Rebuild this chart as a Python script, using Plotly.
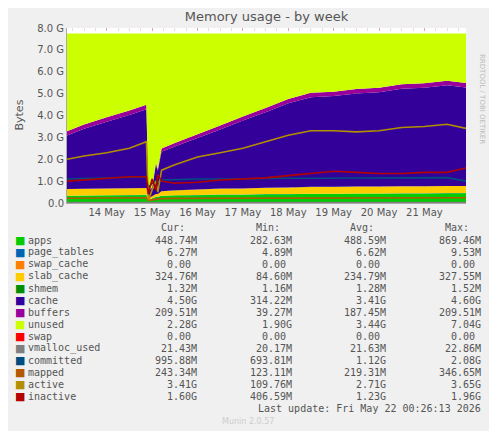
import plotly.graph_objects as go

# sample times (irregular, around the big drop on 14/15 May)
times = ["2026-05-13 03:00", "2026-05-13 12:00", "2026-05-14 00:00", "2026-05-14 12:00",
         "2026-05-14 21:00", "2026-05-14 22:00", "2026-05-15 00:00", "2026-05-15 02:00",
         "2026-05-15 03:00", "2026-05-15 05:00", "2026-05-15 12:00", "2026-05-16 00:00",
         "2026-05-16 12:00", "2026-05-17 00:00", "2026-05-17 12:00", "2026-05-18 00:00",
         "2026-05-18 12:00", "2026-05-19 00:00", "2026-05-19 12:00", "2026-05-20 00:00",
         "2026-05-20 12:00", "2026-05-21 00:00", "2026-05-21 12:00", "2026-05-21 22:00"]

# values in GB
apps = [0.33, 0.34, 0.35, 0.36, 0.37, 0.10, 0.20, 0.28, 0.28, 0.33, 0.35, 0.36,
        0.38, 0.38, 0.40, 0.40, 0.42, 0.42, 0.43, 0.43, 0.44, 0.44, 0.45, 0.45]
page_tables = [0.006] * 24
swap_cache = [0.0] * 24
slab_cache = [0.30, 0.30, 0.31, 0.31, 0.31, 0.10, 0.10, 0.12, 0.12, 0.20, 0.22, 0.25,
              0.27, 0.28, 0.29, 0.30, 0.31, 0.31, 0.32, 0.32, 0.32, 0.32, 0.32, 0.32]
shmem = [0.0013] * 24
cache = [2.45, 2.75, 3.05, 3.35, 3.60, 0.36, 0.35, 1.35, 1.05, 1.80, 2.00, 2.35,
         2.70, 3.10, 3.45, 3.85, 4.10, 4.15, 4.25, 4.30, 4.45, 4.50, 4.60, 4.50]
buffers = [0.19, 0.19, 0.20, 0.20, 0.20, 0.04, 0.05, 0.08, 0.08, 0.15, 0.16, 0.17,
           0.18, 0.19, 0.19, 0.20, 0.20, 0.20, 0.20, 0.21, 0.21, 0.21, 0.21, 0.21]
unused = [4.47, 4.16, 3.83, 3.52, 3.26, 7.14, 7.04, 5.91, 6.21, 5.26, 5.01, 4.61,
          4.21, 3.79, 3.41, 2.99, 2.71, 2.66, 2.54, 2.48, 2.32, 2.27, 2.16, 2.26]
swap = [0.0] * 24
vmalloc_used = [0.021] * 24
committed = [1.10, 1.12, 1.15, 1.18, 1.20, 0.70, 0.90, 1.00, 0.95, 1.05, 1.08, 1.10,
             1.10, 1.12, 1.12, 1.13, 1.13, 1.14, 1.14, 1.15, 1.15, 1.15, 1.16, 1.00]
mapped = [0.22, 0.22, 0.23, 0.23, 0.24, 0.12, 0.15, 0.18, 0.18, 0.20, 0.21, 0.21,
          0.22, 0.22, 0.22, 0.23, 0.23, 0.23, 0.23, 0.23, 0.24, 0.24, 0.24, 0.24]
active = [2.00, 2.15, 2.30, 2.50, 2.80, 0.11, 0.60, 1.00, 0.50, 1.50, 1.75, 2.10,
          2.30, 2.50, 2.80, 3.10, 3.30, 3.30, 3.25, 3.30, 3.45, 3.50, 3.60, 3.41]
inactive = [1.00, 1.05, 1.10, 1.20, 1.20, 0.41, 1.10, 0.60, 1.30, 1.00, 0.90, 0.95,
            1.05, 1.10, 1.15, 1.25, 1.35, 1.45, 1.40, 1.35, 1.35, 1.40, 1.40, 1.60]

stack_series = [("apps", apps, "#00cc00"), ("page_tables", page_tables, "#0066b3"),
                ("swap_cache", swap_cache, "#ff8000"), ("slab_cache", slab_cache, "#ffcc00"),
                ("shmem", shmem, "#008f00"), ("cache", cache, "#330099"),
                ("buffers", buffers, "#990099"), ("unused", unused, "#ccff00")]
line_series = [("swap", swap, "#ff0000"), ("vmalloc_used", vmalloc_used, "#808080"),
               ("committed", committed, "#004d80"), ("mapped", mapped, "#b35a00"),
               ("active", active, "#b38f00"), ("inactive", inactive, "#b30000")]

legend_rows = [
    ("apps", "#00cc00", "448.74M", "282.63M", "488.59M", "869.46M"),
    ("page_tables", "#0066b3", "6.27M", "4.89M", "6.62M", "9.53M"),
    ("swap_cache", "#ff8000", "0.00 ", "0.00 ", "0.00 ", "0.00 "),
    ("slab_cache", "#ffcc00", "324.76M", "84.60M", "234.79M", "327.55M"),
    ("shmem", "#008f00", "1.32M", "1.16M", "1.28M", "1.52M"),
    ("cache", "#330099", "4.50G", "314.22M", "3.41G", "4.60G"),
    ("buffers", "#990099", "209.51M", "39.27M", "187.45M", "209.51M"),
    ("unused", "#ccff00", "2.28G", "1.90G", "3.44G", "7.04G"),
    ("swap", "#ff0000", "0.00 ", "0.00 ", "0.00 ", "0.00 "),
    ("vmalloc_used", "#808080", "21.43M", "20.17M", "21.63M", "22.86M"),
    ("committed", "#004d80", "995.88M", "693.81M", "1.12G", "2.08G"),
    ("mapped", "#b35a00", "243.34M", "123.11M", "219.31M", "346.65M"),
    ("active", "#b38f00", "3.41G", "109.76M", "2.71G", "3.65G"),
    ("inactive", "#b30000", "1.60G", "406.59M", "1.23G", "1.96G"),
]

fig = go.Figure()
for name, vals, col in stack_series:
    fig.add_trace(go.Scatter(x=times, y=vals, name=name, stackgroup="mem", mode="none",
                             fillcolor=col, line=dict(width=0)))
for name, vals, col in line_series:
    fig.add_trace(go.Scatter(x=times, y=vals, name=name, mode="lines",
                             line=dict(color=col, width=1.6)))

# plot area in screen pixels: x 67..466, y 28..203 (page has 8px body margin)
L, R, T, B = 67, 466, 28, 203
OFF = 8
def px(x):
    return (x - L) / (R - L)
def py(y):
    return (B - y) / (B - T)

mono = dict(family="DejaVu Sans Mono", size=10, color="#555555")
ann = []
for i, h in enumerate(["Cur:", "Min:", "Avg:", "Max:"]):
    ann.append(dict(x=px([187, 282, 376, 471][i]), y=py(227), text=h, xanchor="right"))
for r, (name, col, *vals) in enumerate(legend_rows):
    yy = py(240 + r * 12)
    ann.append(dict(x=px(13), y=yy, text="■", font=dict(family="DejaVu Sans", size=11, color=col),
                    xanchor="left"))
    ann.append(dict(x=px(26), y=yy, text=name, xanchor="left"))
    for j, v in enumerate(vals):
        ann.append(dict(x=px([199, 294, 388, 483][j]), y=yy, text=v.replace(" ", "&nbsp;"),
                        xanchor="right"))
ann.append(dict(x=px(483), y=py(408), text="Last update: Fri May 22 00:26:13 2026", xanchor="right"))
for a in ann:
    a.update(xref="paper", yref="paper", showarrow=False, yanchor="middle")
    a.setdefault("font", mono)
ann.append(dict(x=px(248), y=py(421), xref="paper", yref="paper", text="Munin 2.0.57",
                showarrow=False, yanchor="middle",
                font=dict(family="DejaVu Sans", size=8, color="#cccccc")))
ann.append(dict(x=px(488), y=py(52), xref="paper", yref="paper", text="RRDTOOL / TOBI OETIKER",
                showarrow=False, textangle=90, font=dict(family="DejaVu Sans", size=7, color="#bbbbbb")))
ann.append(dict(x=px(10), y=py(115), xref="paper", yref="paper", text="Bytes", showarrow=False,
                textangle=-90, font=dict(family="DejaVu Sans", size=11, color="#555555")))

ytick_vals = [0, 1, 2, 3, 4, 5, 6, 7, 8]
ytick_text = ["0.0", "1.0 G", "2.0 G", "3.0 G", "4.0 G", "5.0 G", "6.0 G", "7.0 G", "8.0 G"]
grid = dict(showgrid=True, gridcolor="rgba(220,120,120,0.55)", griddash="dot", gridwidth=1)

fig.update_layout(
    width=497, height=431, showlegend=False,
    margin=dict(l=L - OFF, r=497 - R + OFF, t=T - OFF, b=431 - B + OFF),
    paper_bgcolor="#f0f0f0", plot_bgcolor="#ffffff",
    title=dict(text="Memory usage - by week", x=0.5, xref="paper", y=0.99, yanchor="top",
               font=dict(family="DejaVu Sans", size=13, color="#555555")),
    annotations=ann,
    font=dict(family="DejaVu Sans", size=10, color="#555555"),
)
fig.update_xaxes(range=["2026-05-13 03:00", "2026-05-21 22:00"], type="date",
                 tickvals=["2026-05-14 00:00", "2026-05-15 00:00", "2026-05-16 00:00",
                           "2026-05-17 00:00", "2026-05-18 00:00", "2026-05-19 00:00",
                           "2026-05-20 00:00", "2026-05-21 00:00"],
                 ticktext=["14 May", "15 May", "16 May", "17 May", "18 May", "19 May",
                           "20 May", "21 May"],
                 minor=dict(dtick=6 * 3600 * 1000, showgrid=True, gridcolor="rgba(220,180,180,0.5)",
                            griddash="dot"),
                 showline=True, linecolor="#aaaaaa", ticks="", layer="above traces", **grid)
fig.update_yaxes(range=[0, 8.0], tickvals=ytick_vals, ticktext=ytick_text,
                 minor=dict(dtick=0.5, showgrid=True, gridcolor="rgba(220,180,180,0.5)",
                            griddash="dot"),
                 showline=True, linecolor="#aaaaaa", zeroline=False, ticks="",
                 layer="above traces", **grid)

fig.write_html("out.html")
